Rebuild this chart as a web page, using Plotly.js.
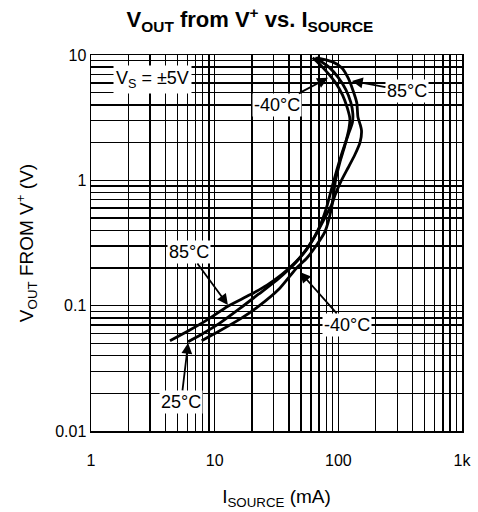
<!DOCTYPE html>
<html>
<head>
<meta charset="utf-8">
<script src="https://cdn.plot.ly/plotly-3.0.1.min.js"></script>
<style>html,body{margin:0;padding:0;background:#fff;}#chart{width:478px;height:512px;}</style>
</head>
<body>
<div id="chart"></div>
<script>
// I_SOURCE (mA) and V_OUT from V+ (V) for each temperature
const src85 = [4.35, 6.3, 8.5, 12.8, 19.3, 26.5, 35, 45, 55, 67, 80, 88.5, 94, 105, 120, 136, 150, 154, 150, 144, 141, 131, 120, 107, 89, 67];
const vout85 = [0.0525, 0.064, 0.076, 0.099, 0.122, 0.146, 0.178, 0.222, 0.28, 0.38, 0.53, 0.64, 0.76, 0.98, 1.26, 1.6, 2.02, 2.5, 2.8, 3.2, 4.15, 5.26, 6.56, 7.89, 8.85, 9.5];

const src25 = [6.1, 8.05, 11, 16, 23, 33, 46, 58, 70, 80, 88, 97, 108, 120, 130, 131, 126, 115, 100, 84, 65];
const vout25 = [0.0516, 0.06, 0.0725, 0.095, 0.125, 0.165, 0.225, 0.3, 0.42, 0.6, 0.85, 1.2, 1.7, 2.3, 2.9, 3.4, 4.2, 5.3, 6.6, 8.0, 9.5];

const srcM40 = [7.85, 11, 16, 23, 33, 46, 55.5, 66.8, 78, 88, 95, 103, 113, 122, 124, 118, 108, 95, 82, 70, 62];
const voutM40 = [0.0525, 0.063, 0.078, 0.1, 0.135, 0.2, 0.239, 0.305, 0.39, 0.6, 1.0, 1.4, 1.9, 2.6, 3.1, 3.8, 4.8, 6.0, 7.2, 8.5, 9.5];

const xTickVals = [1, 10, 100, 1000];
const xTickText = ['1', '10', '100', '1k'];
const yTickVals = [0.01, 0.1, 1, 10];
const yTickText = ['0.01', '0.1', '1', '10'];

const lineStyle = {color: '#000', width: 2.8, shape: 'spline', smoothing: 0.6};
const traces = [
  {x: src85, y: vout85, name: '85°C', mode: 'lines', line: lineStyle},
  {x: src25, y: vout25, name: '25°C', mode: 'lines', line: lineStyle},
  {x: srcM40, y: voutM40, name: '-40°C', mode: 'lines', line: lineStyle}
];

const fontFam = 'Liberation Sans, Arial, sans-serif';
const lbl = {family: fontFam, size: 18, color: '#000'};
function ann(text, xv, yv, ax, ay) {
  return {x: Math.log10(xv), y: Math.log10(yv), xref: 'x', yref: 'y', text: text,
    showarrow: true, ax: ax, ay: ay, arrowhead: 2, arrowsize: 1.2, arrowwidth: 1.8,
    arrowcolor: '#000', bgcolor: '#fff', font: lbl, borderpad: 1};
}

const layout = {
  width: 478, height: 512,
  margin: {l: 91, r: 16, t: 55, b: 81},
  paper_bgcolor: '#fff', plot_bgcolor: '#fff',
  showlegend: false,
  title: {text: '<b>V<sub>OUT</sub> from V<sup>+</sup> vs. I<sub>SOURCE</sub></b>',
    font: {family: fontFam, size: 22, color: '#000'}, x: 0.523, xanchor: 'center', y: 0.962, yanchor: 'middle'},
  xaxis: {
    type: 'log', range: [0, 3], tickmode: 'array', tickvals: xTickVals, ticktext: xTickText,
    showgrid: true, gridcolor: '#000', gridwidth: 1.4, ticks: '', ticklabelstandoff: 14,
    showline: true, linecolor: '#000', linewidth: 1.5, mirror: true, zeroline: false,
    tickfont: {family: fontFam, size: 16, color: '#000'},
    minor: {dtick: 'D1', showgrid: true, gridcolor: '#000', gridwidth: 1.4, ticks: ''},
    title: {text: 'I<sub>SOURCE</sub> (mA)', font: {family: fontFam, size: 19, color: '#000'}, standoff: 22}
  },
  yaxis: {
    type: 'log', range: [-2, 1], tickmode: 'array', tickvals: yTickVals, ticktext: yTickText,
    showgrid: true, gridcolor: '#000', gridwidth: 1.4, ticks: '',
    showline: true, linecolor: '#000', linewidth: 1.5, mirror: true, zeroline: false,
    tickfont: {family: fontFam, size: 16, color: '#000'},
    minor: {dtick: 'D1', showgrid: true, gridcolor: '#000', gridwidth: 1.4, ticks: ''},
    title: {text: 'V<sub>OUT</sub> FROM V<sup>+</sup> (V)', font: {family: fontFam, size: 19, color: '#000'}, standoff: 16}
  },
  annotations: [
    {x: Math.log10(1.5), y: Math.log10(6.33), xref: 'x', yref: 'y', xanchor: 'left', text: 'V<sub>S</sub> = ±5V',
      showarrow: false, bgcolor: '#fff', font: lbl, borderpad: 2},
    ann('-40°C', 82.5, 6.57, -51, 27),
    ann('85°C', 128.8, 6.21, 55, 10),
    ann('85°C', 12.8, 0.1013, -39, -53),
    ann('-40°C', 48.9, 0.186, 47, 53),
    ann('25°C', 6.1, 0.0504, -7, 59)
  ]
};

Plotly.newPlot('chart', traces, layout, {displayModeBar: false, staticPlot: true});
</script>
</body>
</html>
